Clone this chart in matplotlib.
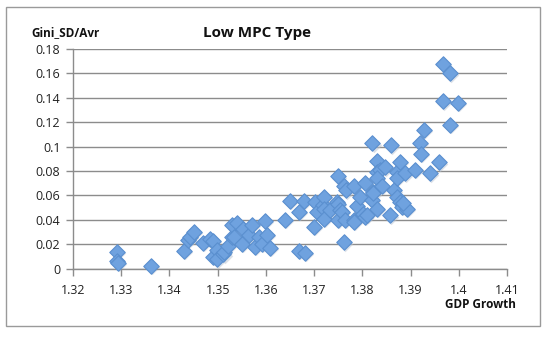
import matplotlib
matplotlib.use("Agg")
import matplotlib.pyplot as plt
from matplotlib.patches import Rectangle

gdp_growth = [
    1.3291, 1.3291, 1.3293, 1.3362,
    1.3431, 1.3439, 1.3442, 1.3450, 1.3470, 1.3484, 1.3490, 1.3490, 1.3498, 1.3499,
    1.3512, 1.3514, 1.3522, 1.3529, 1.3529, 1.3540, 1.3533, 1.3551, 1.3553, 1.3564,
    1.3571, 1.3578, 1.3585, 1.3591, 1.3598, 1.3602, 1.3609,
    1.3640, 1.3649, 1.3669, 1.3681, 1.3669, 1.3679, 1.3700, 1.3702, 1.3707, 1.3718,
    1.3720, 1.3720, 1.3721, 1.3733, 1.3747, 1.3750, 1.3750, 1.3754, 1.3750, 1.3757,
    1.3761, 1.3761, 1.3764, 1.3767, 1.3782, 1.3782, 1.3782, 1.3789, 1.3795, 1.3802,
    1.3806, 1.3806, 1.3810, 1.3821, 1.3822, 1.3820, 1.3823, 1.3830, 1.3830, 1.3837,
    1.3830, 1.3830, 1.3840, 1.3847, 1.3859, 1.3858, 1.3865, 1.3871, 1.3871, 1.3871,
    1.3878, 1.3878, 1.3882, 1.3889, 1.3892, 1.3885,
    1.3910, 1.3928, 1.3920, 1.3921, 1.3941, 1.3959, 1.3968, 1.3981, 1.3968, 1.3999,
    1.3981,
]
gini_sd_avr = [
    0.0135, 0.0065, 0.0045, 0.0020,
    0.0143, 0.0232, 0.0260, 0.0300, 0.0207, 0.0238, 0.0225, 0.0097, 0.0150, 0.0075,
    0.0115, 0.0138, 0.0185, 0.0255, 0.0357, 0.0370, 0.0260, 0.0205, 0.0325, 0.0275,
    0.0360, 0.0180, 0.0260, 0.0205, 0.0390, 0.0275, 0.0166,
    0.0400, 0.0555, 0.0143, 0.0130, 0.0466, 0.0553, 0.0340, 0.0548, 0.0465, 0.0520,
    0.0590, 0.0485, 0.0405, 0.0480, 0.0548, 0.0755, 0.0530, 0.0480, 0.0400, 0.0466,
    0.0215, 0.0680, 0.0400, 0.0640, 0.0680, 0.0400, 0.0380, 0.0515, 0.0590, 0.0450,
    0.0425, 0.0700, 0.0440, 0.1026, 0.0630, 0.0560, 0.0616, 0.0885, 0.0790, 0.0807,
    0.0740, 0.0490, 0.0680, 0.0830, 0.1010, 0.0435, 0.0640, 0.0590, 0.0790, 0.0740,
    0.0875, 0.0548, 0.0507, 0.0780, 0.0490, 0.0534,
    0.0807, 0.1135, 0.1030, 0.0940, 0.0780, 0.0870, 0.1680, 0.1600, 0.1370, 0.1360,
    0.1176,
]
x_ticks = [1.32, 1.33, 1.34, 1.35, 1.36, 1.37, 1.38, 1.39, 1.40, 1.41]
x_tick_labels = ["1.32", "1.33", "1.34", "1.35", "1.36", "1.37", "1.38", "1.39", "1.4", "1.41"]
y_ticks = [0, 0.02, 0.04, 0.06, 0.08, 0.10, 0.12, 0.14, 0.16, 0.18]
y_tick_labels = ["0", "0.02", "0.04", "0.06", "0.08", "0.1", "0.12", "0.14", "0.16", "0.18"]

plt.rcParams['font.family'] = ['Open Sans', 'DejaVu Sans']

W, H = 550, 339
fig = plt.figure(figsize=(W / 100, H / 100), dpi=100)
fig.patch.set_facecolor("white")

# outer frame
fig.patches.append(Rectangle((6 / W, 1 - 326 / H), (540 - 6) / W, (326 - 7) / H,
                             transform=fig.transFigure, fill=False,
                             edgecolor="#9a9a9a", linewidth=1.0))

left, right, top, bottom = 73, 507, 49, 268.5
ax = fig.add_axes([left / W, 1 - bottom / H, (right - left) / W, (bottom - top) / H])
ax.set_xlim(1.32, 1.41)
ax.set_ylim(0, 0.18)
ax.set_xticks(x_ticks)
ax.set_xticklabels(x_tick_labels)
ax.set_yticks(y_ticks)
ax.set_yticklabels(y_tick_labels)
ax.grid(axis="y", color="#8c8c8c", linewidth=1.0)
ax.set_axisbelow(True)
for s in ["top", "right"]:
    ax.spines[s].set_visible(False)
for s in ["left", "bottom"]:
    ax.spines[s].set_color("#8c8c8c")
    ax.spines[s].set_linewidth(1.0)
ax.tick_params(axis="both", direction="out", length=5, width=1, color="#8c8c8c",
               labelsize=9, labelcolor="#222222")
ax.tick_params(axis="x", pad=6)
ax.tick_params(axis="y", pad=4)

# shadow then markers
ax.scatter([v + 0.00022 for v in gdp_growth], [v - 0.0010 for v in gini_sd_avr],
           marker="D", s=62, color="#b9c4d2", alpha=0.5, linewidths=0, zorder=2,
           clip_on=False)
ax.scatter(gdp_growth, gini_sd_avr, marker="D", s=62, facecolor="#6fa2df",
           edgecolor="#5a8fcf", linewidths=0.8, zorder=3, clip_on=False)

fig.text(257 / W, 1 - 33 / H, "Low MPC Type", ha="center", va="center",
         fontsize=11, fontweight="bold", color="#111111")
fig.text(66 / W, 1 - 33 / H, "Gini_SD/Avr", ha="center", va="center",
         fontsize=8.5, fontweight="bold", color="#111111")
fig.text(516 / W, 1 - 304 / H, "GDP Growth", ha="right", va="center",
         fontsize=8.5, fontweight="bold", color="#111111")

fig.savefig("out.png", dpi=100, facecolor="white")
